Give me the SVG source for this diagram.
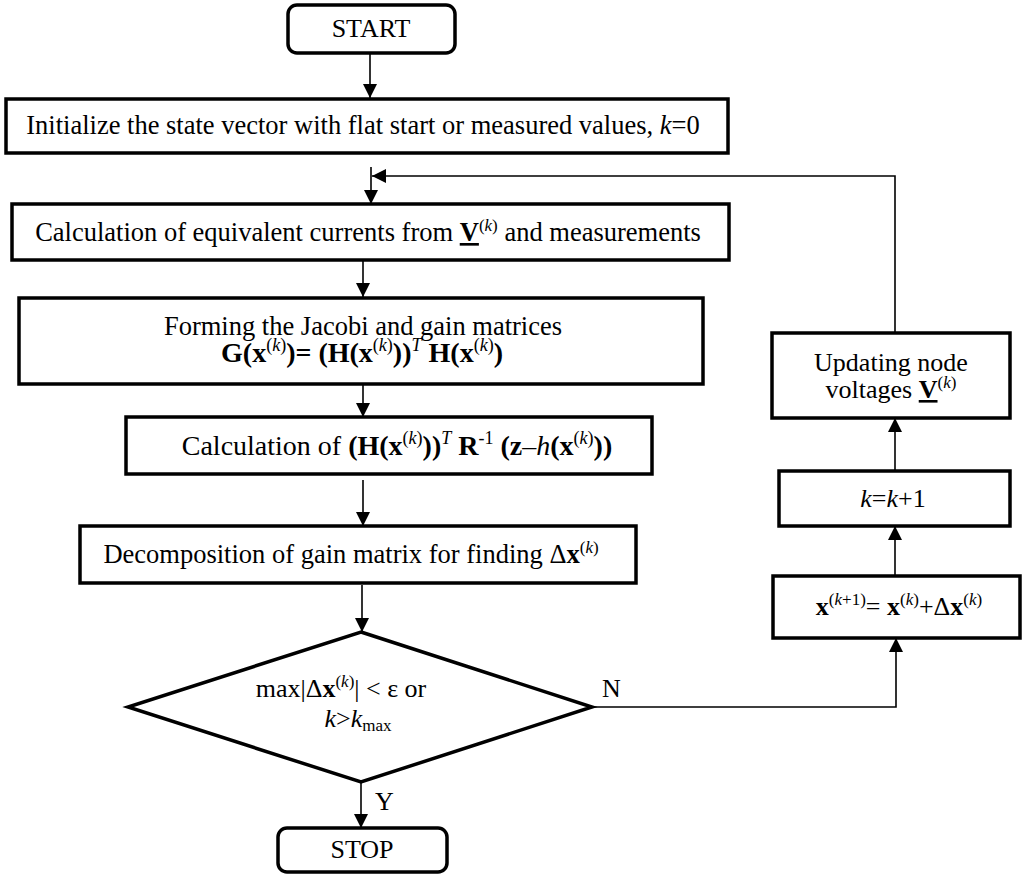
<svg xmlns="http://www.w3.org/2000/svg" width="1024" height="874" viewBox="0 0 1024 874">
  <style>
    .box { fill: #fff; stroke: #000; stroke-width: 3.5; }
    .term { fill: #fff; stroke: #000; stroke-width: 3.5; }
    .con { fill: none; stroke: #000; stroke-width: 1.6; }
    text { font-family: "Liberation Serif", "Times New Roman", serif; font-size: 26.5px; fill: #000; }
    .sm { font-size: 26px; }
    .lg { font-size: 28px; }
    .b { font-weight: bold; }
    .i { font-style: italic; }
    .sup { font-size: 17px; font-weight: normal; }
    .lg .sup { font-size: 18px; }
    .sub { font-size: 17px; font-weight: normal; }
    .u { text-decoration: underline; }
  </style>
  <defs>
    <marker id="arrow" markerUnits="userSpaceOnUse" markerWidth="15" markerHeight="15" refX="14" refY="7" orient="auto">
      <path d="M0,0 L14,7 L0,14 z" fill="#000"/>
    </marker>
  </defs>

  <!-- connectors -->
  <g id="connectors">
    <line class="con" x1="370" y1="53" x2="370" y2="98" marker-end="url(#arrow)"/>
    <line class="con" x1="371" y1="167" x2="371" y2="204" marker-end="url(#arrow)"/>
    <path class="con" d="M895,333 V176 H372" marker-end="url(#arrow)"/>
    <line class="con" x1="363" y1="260" x2="363" y2="297" marker-end="url(#arrow)"/>
    <line class="con" x1="363" y1="385" x2="363" y2="417" marker-end="url(#arrow)"/>
    <line class="con" x1="363" y1="480" x2="363" y2="526" marker-end="url(#arrow)"/>
    <line class="con" x1="362" y1="585" x2="362" y2="632" marker-end="url(#arrow)"/>
    <line class="con" x1="361" y1="782" x2="361" y2="828" marker-end="url(#arrow)"/>
    <path class="con" d="M592,707 H896 V638" marker-end="url(#arrow)"/>
    <line class="con" x1="895" y1="576" x2="895" y2="526" marker-end="url(#arrow)"/>
    <line class="con" x1="895" y1="471" x2="895" y2="418" marker-end="url(#arrow)"/>
    <text class="sm" x="602" y="697">N</text>
    <text class="sm" x="375" y="810">Y</text>
  </g>

  <g id="start">
    <rect class="term" x="288" y="5" width="167" height="48" rx="9"/>
    <text class="sm" x="371" y="37" text-anchor="middle">START</text>
  </g>

  <g id="init">
    <rect class="box" x="6" y="99" width="722" height="54"/>
    <text x="363" y="134" text-anchor="middle">Initialize the state vector with flat start or measured values, <tspan class="i">k</tspan>=0</text>
  </g>

  <g id="currents">
    <rect class="box" x="12" y="204" width="717" height="56"/>
    <text x="368" y="241" text-anchor="middle">Calculation of equivalent currents from <tspan class="b u">V</tspan><tspan class="sup" dy="-10">(<tspan class="i">k</tspan>)</tspan><tspan dy="10"> and measurements</tspan></text>
  </g>

  <g id="jacobi">
    <rect class="box" x="19" y="298" width="684" height="86"/>
    <text x="363" y="335" text-anchor="middle">Forming the Jacobi and gain matrices</text>
    <text x="362" y="362" text-anchor="middle" class="b lg">G(x<tspan class="sup" dy="-11">(<tspan class="i">k</tspan>)</tspan><tspan dy="11">)= (H(x</tspan><tspan class="sup" dy="-11">(<tspan class="i">k</tspan>)</tspan><tspan dy="11">))</tspan><tspan class="sup i" dy="-11">T</tspan><tspan dy="11"> H(x</tspan><tspan class="sup" dy="-11">(<tspan class="i">k</tspan>)</tspan><tspan dy="11">)</tspan></text>
  </g>

  <g id="residual">
    <rect class="box" x="126" y="417" width="526" height="57"/>
    <text class="lg" x="397" y="455" text-anchor="middle">Calculation of <tspan class="b">(H(x</tspan><tspan class="sup" dy="-11">(<tspan class="i">k</tspan>)</tspan><tspan class="b" dy="11">))</tspan><tspan class="sup i" dy="-11">T</tspan><tspan class="b" dy="11"> R</tspan><tspan class="sup" dy="-11">-1</tspan><tspan class="b" dy="11"> (z</tspan>–<tspan class="i">h</tspan><tspan class="b">(x</tspan><tspan class="sup" dy="-11">(<tspan class="i">k</tspan>)</tspan><tspan class="b" dy="11">))</tspan></text>
  </g>

  <g id="decomposition">
    <rect class="box" x="80" y="526" width="556" height="57"/>
    <text x="351" y="563" text-anchor="middle">Decomposition of gain matrix for finding Δ<tspan class="b">x</tspan><tspan class="sup" dy="-10">(<tspan class="i">k</tspan>)</tspan></text>
  </g>

  <g id="decision">
    <polygon class="box" points="361,632 592,707 361,782 128,707"/>
    <text class="sm" x="341" y="697" text-anchor="middle">max|Δ<tspan class="b">x</tspan><tspan class="sup" dy="-10">(<tspan class="i">k</tspan>)</tspan><tspan dy="10">| &lt; ε or</tspan></text>
    <text class="sm" x="358" y="727" text-anchor="middle"><tspan class="i">k</tspan>&gt;<tspan class="i">k</tspan><tspan class="sub" dy="4">max</tspan></text>
  </g>

  <g id="stop">
    <rect class="term" x="278" y="828" width="169" height="44" rx="9"/>
    <text class="sm" x="362" y="858" text-anchor="middle">STOP</text>
  </g>

  <g id="update-x">
    <rect class="box" x="773" y="576" width="247" height="62"/>
    <text class="sm" x="899" y="615" text-anchor="middle"><tspan class="b">x</tspan><tspan class="sup" dy="-10">(<tspan class="i">k</tspan>+1)</tspan><tspan dy="10">= </tspan><tspan class="b">x</tspan><tspan class="sup" dy="-10">(<tspan class="i">k</tspan>)</tspan><tspan dy="10">+Δ</tspan><tspan class="b">x</tspan><tspan class="sup" dy="-10">(<tspan class="i">k</tspan>)</tspan></text>
  </g>

  <g id="increment">
    <rect class="box" x="779" y="471" width="231" height="55"/>
    <text class="sm" x="893" y="507" text-anchor="middle"><tspan class="i">k</tspan>=<tspan class="i">k</tspan>+1</text>
  </g>

  <g id="update-v">
    <rect class="box" x="772" y="333" width="238" height="85"/>
    <text class="sm" x="891" y="371" text-anchor="middle">Updating node</text>
    <text class="sm" x="891" y="398" text-anchor="middle">voltages <tspan class="b u">V</tspan><tspan class="sup" dy="-10">(<tspan class="i">k</tspan>)</tspan></text>
  </g>
</svg>
